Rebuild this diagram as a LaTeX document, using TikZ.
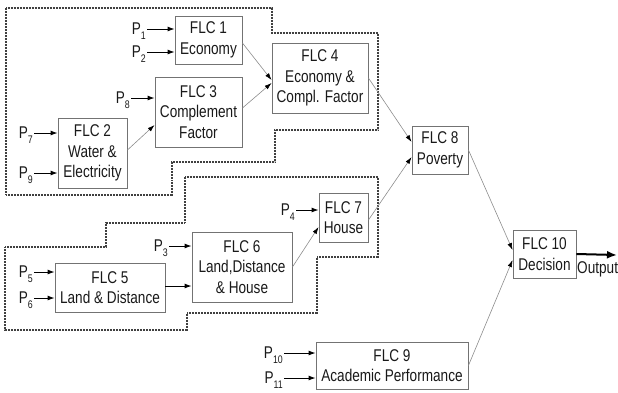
\documentclass[tikz,border=0pt]{standalone}
\usepackage{fontspec}
\setmainfont[FakeStretch=0.8]{Liberation Sans}
\usetikzlibrary{arrows.meta}
\newcommand\Pl[1]{P\smash{\raisebox{-4.5pt}{\fontsize{11}{11}\selectfont #1}}}
\begin{document}
\begin{tikzpicture}[x=1pt,y=-1pt,
  box/.style={draw=black!55, line width=0.9pt, align=center, inner sep=0pt,
    font=\fontsize{17}{20.5}\selectfont, text=black!90},
  plab/.style={inner sep=0pt, anchor=east, font=\fontsize{17}{20}\selectfont, text=black!90},
  parr/.style={-{Latex[length=7pt,width=5pt]}, line width=0.9pt},
  garr/.style={-{Latex[length=7pt,width=4.5pt,color=black]}, draw=black!45, line width=0.6pt},
  grp/.style={draw=black!75, line width=1.3pt, dash pattern=on 0.9pt off 0.6pt},
  outarr/.style={-{Latex[length=10pt,width=8pt]}, line width=2pt},
]
\useasboundingbox (0,0) rectangle (618,392);

% groups
\draw[grp] (6,8) -- (272,8) -- (272,33) -- (378,33) -- (378,130) -- (275,130)
  -- (275,162) -- (172,162) -- (172,195) -- (6,195) -- cycle;
\draw[grp] (185,177) -- (378,177) -- (378,257) -- (317,257) -- (317,313)
  -- (187,313) -- (187,330) -- (5,330) -- (5,247) -- (106,247) -- (106,223)
  -- (185,223) -- cycle;

% boxes
\node[box, minimum width=67pt, minimum height=48pt] (f1) at (208.5,40) {FLC 1\\Economy};
\node[box, minimum width=87pt, minimum height=70pt] (f3) at (198.5,112) {FLC 3\\Complement\\Factor};
\node[box, minimum width=69pt, minimum height=70pt] (f2) at (92.5,153) {FLC 2\\Water \&\\Electricity};
\node[box, minimum width=96pt, minimum height=70pt] (f4) at (320,78) {FLC 4\\Economy \&\\Compl. Factor};
\node[box, minimum width=56pt, minimum height=48pt] (f8) at (440,150) {FLC 8\\Poverty};
\node[box, minimum width=110pt, minimum height=49pt] (f5) at (110,287.5) {FLC 5\\Land \& Distance};
\node[box, minimum width=100pt, minimum height=70pt] (f6) at (242,267) {FLC 6\\Land,Distance\\\& House};
\node[box, minimum width=49pt, minimum height=49pt] (f7) at (343.5,217.5) {FLC 7\\House};
\node[box, minimum width=63pt, minimum height=48pt] (f10) at (544.5,254) {FLC 10\\Decision};
\node[box, minimum width=152pt, minimum height=47pt] (f9) at (392,365.5) {FLC 9\\Academic Performance};

% inputs
\node[plab] (p1) at (146,29) {\Pl{1}};
\node[plab] (p2) at (146,52) {\Pl{2}};
\node[plab] (p8) at (130,98) {\Pl{8}};
\node[plab] (p7) at (33,133) {\Pl{7}};
\node[plab] (p9) at (33,173) {\Pl{9}};
\node[plab] (p5) at (33,272) {\Pl{5}};
\node[plab] (p6) at (33,298) {\Pl{6}};
\node[plab] (p3) at (168,246) {\Pl{3}};
\node[plab] (p4) at (295,210) {\Pl{4}};
\node[plab] (p10) at (283,353) {\Pl{10}};
\node[plab] (p11) at (283,378) {\Pl{11}};

\foreach \p/\f in {p1/f1,p2/f1,p8/f3,p7/f2,p9/f2,p5/f5,p6/f5,p3/f6,p4/f7,p10/f9,p11/f9}
  \draw[parr] ([xshift=1pt]\p.east) -- (\f.west |- \p.east);

% connectors
\draw[garr] ([yshift=-3pt]f1.east) -- ([yshift=-2pt]f4.west);
\draw[garr] ([yshift=4pt]f3.east) -- ([yshift=-5pt]f4.west);
\draw[garr] ([yshift=3pt]f2.east) -- ([yshift=-13pt]f3.west);
\draw[garr] (f4.east) -- ([yshift=8pt]f8.west);
\draw[garr] ([yshift=-2.5pt]f7.east) -- ([yshift=-7pt]f8.west);
\draw[garr] (f6.east) -- ([yshift=-9.5pt]f7.west);
\draw[parr] ([yshift=1.5pt]f5.east) coordinate (a5) -- (a5 -| f6.west);
\draw[garr] (f8.east) -- ([yshift=4pt]f10.west);
\draw[garr] (f9.east) -- ([yshift=-6pt]f10.west);

\coordinate (outend) at (617,255);
\draw[outarr] (f10.east) -- (outend);
\node[anchor=west, inner sep=0pt, font=\fontsize{17}{20}\selectfont, text=black!90] (outl) at (577,269) {Output};
\end{tikzpicture}
\end{document}
